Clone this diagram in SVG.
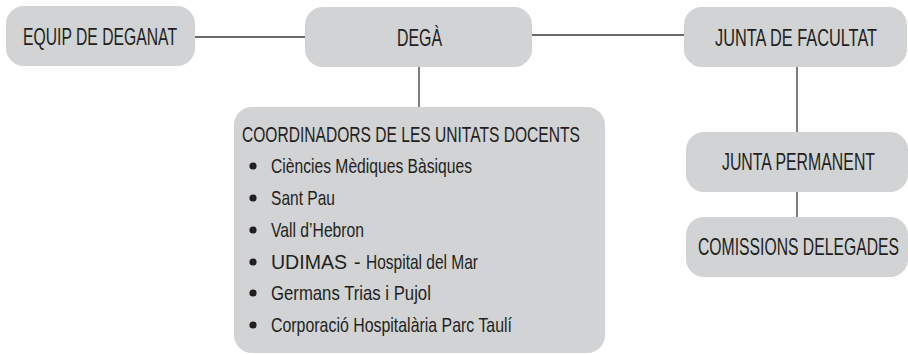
<svg xmlns="http://www.w3.org/2000/svg" width="908" height="354" viewBox="0 0 908 354">
<style>
  .box { fill: #d1d3d4; }
  .t { font-family: "Liberation Sans", Arial, sans-serif; fill: #231f20; }
  .big { font-size: 23.5px; }
  .hd { font-size: 22.5px; }
  .it { font-size: 20.5px; }
  .ud { font-size: 19.5px; }
  .conn line { stroke: #3a3a3a; stroke-width: 1.3; }
  .bul { fill: #231f20; }
</style>
<rect width="908" height="354" fill="#ffffff"/>
<g id="connectors" class="conn">
  <line x1="195" y1="37" x2="305" y2="37"/>
  <line x1="532" y1="35" x2="684" y2="35"/>
  <line x1="419" y1="67" x2="419" y2="107"/>
  <line x1="797" y1="67" x2="797" y2="132"/>
  <line x1="797" y1="192" x2="797" y2="217"/>
</g>
<g id="equip">
  <rect class="box" x="6" y="6" width="189" height="60" rx="18"/>
  <text class="t big" transform="translate(100,45) scale(0.667,1)" text-anchor="middle" textLength="231" lengthAdjust="spacingAndGlyphs">EQUIP DE DEGANAT</text>
</g>
<g id="dega">
  <rect class="box" x="305" y="7" width="227" height="60" rx="18"/>
  <text class="t big" transform="translate(419.5,46) scale(0.667,1)" text-anchor="middle" textLength="67.5" lengthAdjust="spacingAndGlyphs">DEGÀ</text>
</g>
<g id="junta-facultat">
  <rect class="box" x="684" y="7" width="223" height="60" rx="18"/>
  <text class="t big" transform="translate(796,46) scale(0.667,1)" text-anchor="middle" textLength="243" lengthAdjust="spacingAndGlyphs">JUNTA DE FACULTAT</text>
</g>
<g id="junta-permanent">
  <rect class="box" x="686" y="132" width="222" height="60" rx="18"/>
  <text class="t big" transform="translate(798.5,170) scale(0.667,1)" text-anchor="middle" textLength="229.5" lengthAdjust="spacingAndGlyphs">JUNTA PERMANENT</text>
</g>
<g id="comissions">
  <rect class="box" x="686" y="217" width="222" height="60" rx="18"/>
  <text class="t big" transform="translate(798.5,255) scale(0.667,1)" text-anchor="middle" textLength="301.5" lengthAdjust="spacingAndGlyphs">COMISSIONS DELEGADES</text>
</g>
<g id="coordinadors">
  <rect class="box" x="234" y="107" width="371" height="246" rx="18"/>
  <text class="t hd" transform="translate(242,142) scale(0.688,1)" textLength="491" lengthAdjust="spacingAndGlyphs">COORDINADORS DE LES UNITATS DOCENTS</text>
  <circle class="bul" cx="253" cy="166" r="3.6"/>
  <text class="t it" transform="translate(271,173) scale(0.765,1)" textLength="262.7" lengthAdjust="spacingAndGlyphs">Ciències Mèdiques Bàsiques</text>
  <circle class="bul" cx="253" cy="198" r="3.6"/>
  <text class="t it" transform="translate(271,205) scale(0.765,1)" textLength="83.7" lengthAdjust="spacingAndGlyphs">Sant Pau</text>
  <circle class="bul" cx="253" cy="230" r="3.6"/>
  <text class="t it" transform="translate(271,237) scale(0.765,1)" textLength="121.6" lengthAdjust="spacingAndGlyphs">Vall d’Hebron</text>
  <circle class="bul" cx="253" cy="262" r="3.6"/>
  <text class="t ud" x="271" y="269" textLength="76" lengthAdjust="spacingAndGlyphs">UDIMAS</text>
  <text class="t ud" x="354" y="269">-</text>
  <text class="t it" transform="translate(366,269) scale(0.765,1)" textLength="146.4" lengthAdjust="spacingAndGlyphs">Hospital del Mar</text>
  <circle class="bul" cx="253" cy="293" r="3.6"/>
  <text class="t it" transform="translate(271,300) scale(0.765,1)" textLength="209" lengthAdjust="spacingAndGlyphs">Germans Trias i Pujol</text>
  <circle class="bul" cx="253" cy="325" r="3.6"/>
  <text class="t it" transform="translate(271,332) scale(0.765,1)" textLength="315" lengthAdjust="spacingAndGlyphs">Corporació Hospitalària Parc Taulí</text>
</g>
</svg>
